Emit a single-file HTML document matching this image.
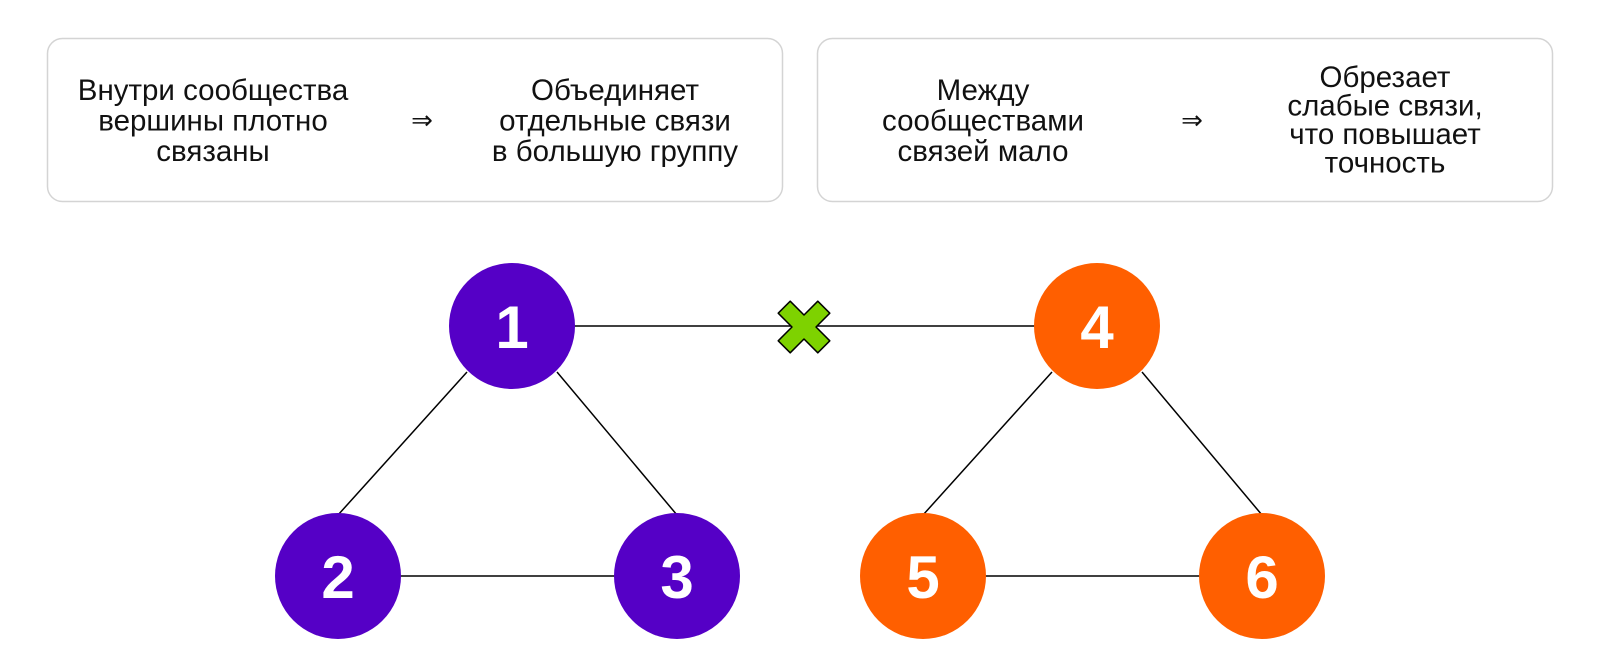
<!DOCTYPE html>
<html><head><meta charset="utf-8"><style>
html,body{margin:0;padding:0;background:#fff;width:1600px;height:669px;overflow:hidden}
svg{display:block}
.t{font-family:"Liberation Sans","DejaVu Sans",sans-serif;font-size:29.5px;fill:#111;text-anchor:middle}
.d{font-family:"Liberation Sans","DejaVu Sans",sans-serif;font-size:60px;fill:#fff;text-anchor:middle;font-weight:bold}
</style></head><body>
<svg width="1600" height="669" viewBox="0 0 1600 669" xmlns="http://www.w3.org/2000/svg">
<rect x="47.5" y="38.5" width="735" height="163" rx="15" fill="#fff" stroke="#d4d4d4" stroke-width="1.5"/>
<rect x="817.5" y="38.5" width="735" height="163" rx="15" fill="#fff" stroke="#d4d4d4" stroke-width="1.5"/>
<text class="t" x="213" y="100">Внутри сообщества</text>
<text class="t" x="213" y="130.5">вершины плотно</text>
<text class="t" x="213" y="161">связаны</text>
<text class="t" x="422" y="129" style="font-size:26px">⇒</text>
<text class="t" x="615" y="100">Объединяет</text>
<text class="t" x="615" y="130.5">отдельные связи</text>
<text class="t" x="615" y="161">в большую группу</text>
<text class="t" x="983" y="100">Между</text>
<text class="t" x="983" y="130.5">сообществами</text>
<text class="t" x="983" y="161">связей мало</text>
<text class="t" x="1192" y="129" style="font-size:26px">⇒</text>
<text class="t" x="1385" y="87">Обрезает</text>
<text class="t" x="1385" y="115.5">слабые связи,</text>
<text class="t" x="1385" y="144">что повышает</text>
<text class="t" x="1385" y="172.5">точность</text>
<g stroke="#000" stroke-width="1.5">
<line x1="570" y1="326" x2="1040" y2="326"/>
<line x1="467" y1="372" x2="338" y2="515"/>
<line x1="557" y1="372" x2="677" y2="515"/>
<line x1="1052" y1="372" x2="923" y2="515"/>
<line x1="1142" y1="372" x2="1262" y2="515"/>
<line x1="398" y1="576" x2="616" y2="576"/>
<line x1="983" y1="576" x2="1201" y2="576"/>
</g>
<g transform="translate(804,327) rotate(45)">
<polygon points="-8.5,-28 8.5,-28 8.5,-8.5 28,-8.5 28,8.5 8.5,8.5 8.5,28 -8.5,28 -8.5,8.5 -28,8.5 -28,-8.5 -8.5,-8.5" fill="#7ed200" stroke="#000" stroke-width="1.5" stroke-linejoin="round"/>
</g>
<circle cx="512" cy="326" r="63" fill="#5500c6"/>
<circle cx="338" cy="576" r="63" fill="#5500c6"/>
<circle cx="677" cy="576" r="63" fill="#5500c6"/>
<circle cx="1097" cy="326" r="63" fill="#ff5f00"/>
<circle cx="923" cy="576" r="63" fill="#ff5f00"/>
<circle cx="1262" cy="576" r="63" fill="#ff5f00"/>
<text class="d" x="512" y="348">1</text>
<text class="d" x="338" y="598">2</text>
<text class="d" x="677" y="598">3</text>
<text class="d" x="1097" y="348">4</text>
<text class="d" x="923" y="598">5</text>
<text class="d" x="1262" y="598">6</text>
</svg>
</body></html>
